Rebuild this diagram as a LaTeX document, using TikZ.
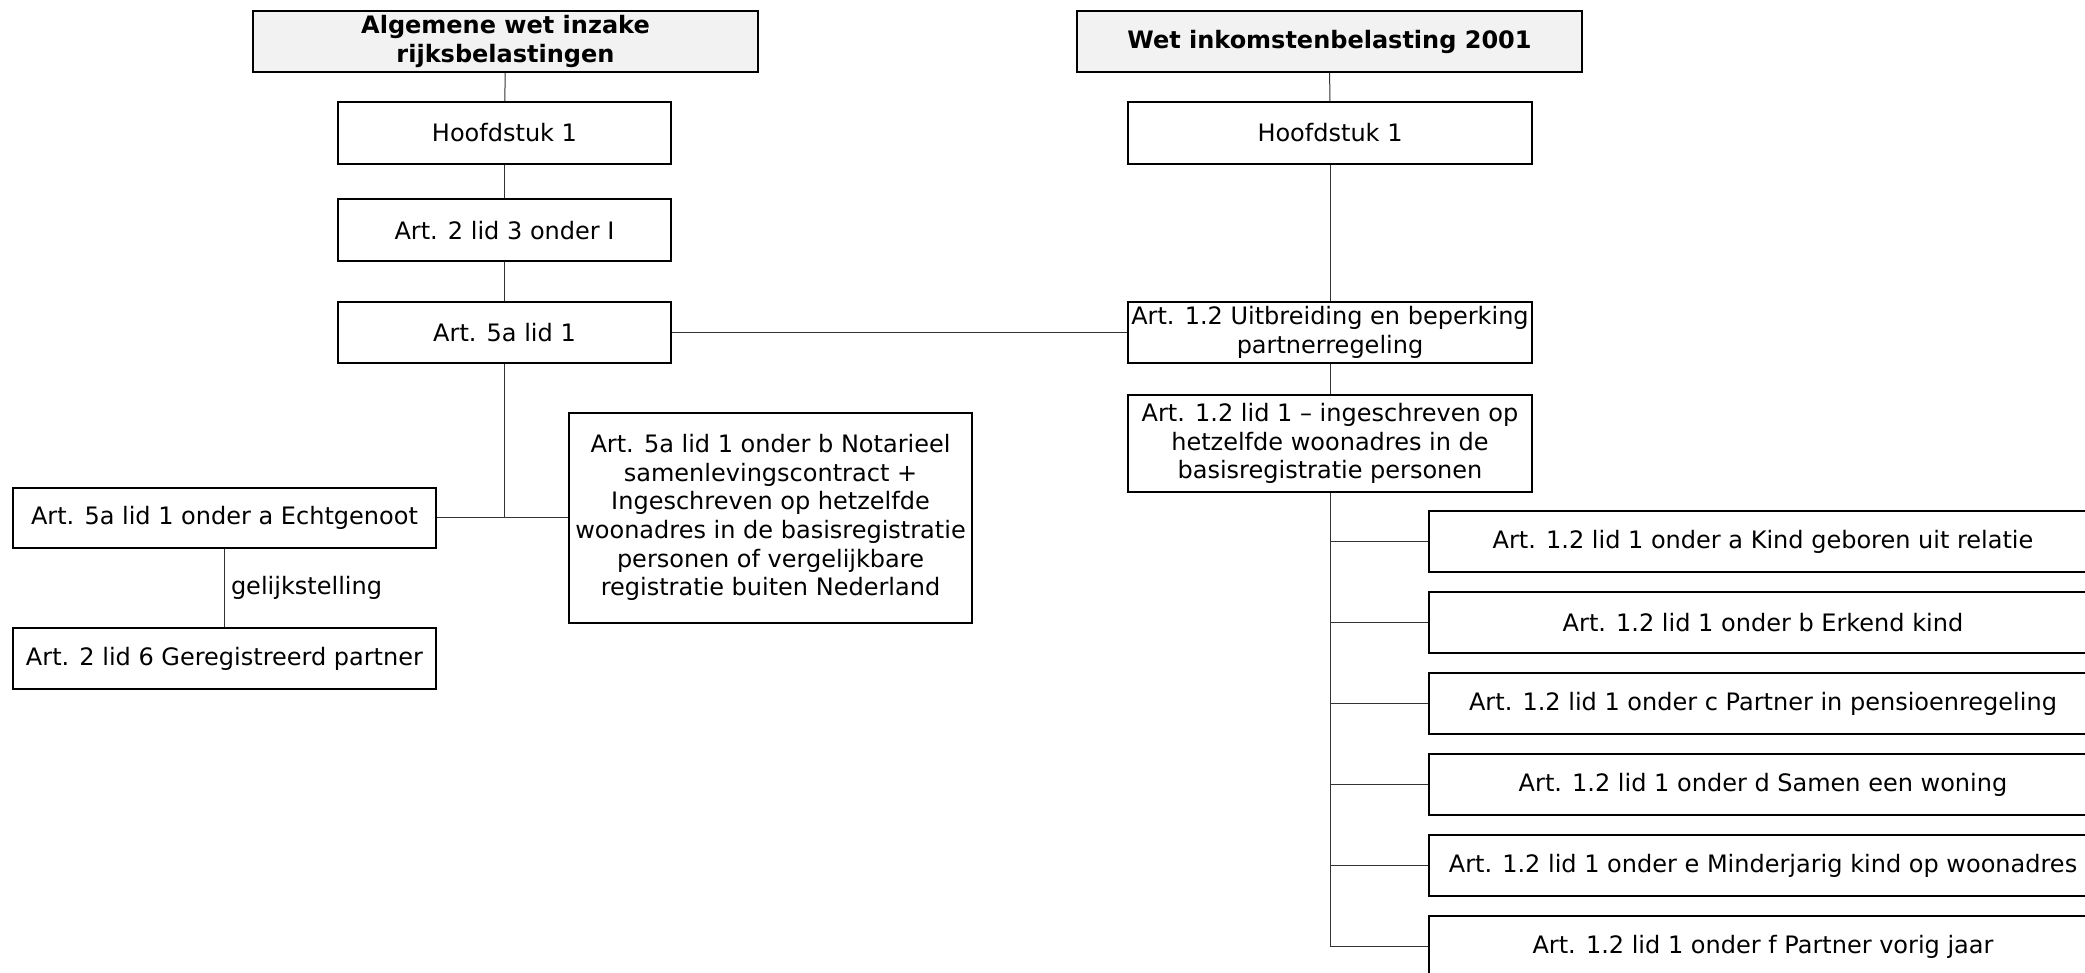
\documentclass[tikz,border=0pt]{standalone}
\usepackage{fontspec}
\setmainfont{DejaVu Sans}
\usetikzlibrary{positioning}
\tikzset{kbox/.style={draw, line width=2pt, fill=white, align=center, inner sep=1pt, font=\fontsize{24}{28.7}\selectfont}}
\tikzset{hbox/.style={kbox, fill={black!5}, font=\fontsize{24}{29}\selectfont\bfseries}}
\tikzset{lnk/.style={draw=black!80, line width=1pt}}

\begin{document}
\begin{tikzpicture}[x=1pt, y=-1pt]
	\useasboundingbox (0,0) rectangle (2085,973);
	\clip (0,0) rectangle (2085,973);

	\node[hbox, minimum width=505pt, minimum height=61pt] (awr) at (505.5,41.5) {Algemene wet inzake\\rijksbelastingen};
	\node[hbox, minimum width=505pt, minimum height=61pt] (wib) at (1329.5,41.5) {Wet inkomstenbelasting 2001};

	\node[kbox, minimum width=333pt, minimum height=62pt] (hfdl) at (504.5,133) {Hoofdstuk 1};
	\node[kbox, minimum width=333pt, minimum height=62pt] (art2) at (504.5,230.5) {Art. 2 lid 3 onder I};
	\node[kbox, minimum width=333pt, minimum height=61pt] (art5a) at (504.5,332.5) {Art. 5a lid 1};

	\node[kbox, minimum width=423pt, minimum height=60pt] (onda) at (224.5,517.5) {Art. 5a lid 1 onder a Echtgenoot};
	\node[kbox, minimum width=423pt, minimum height=61pt] (gp) at (224.5,658.5) {Art. 2 lid 6 Geregistreerd partner};
	\node[kbox, minimum width=403pt, minimum height=210pt] (ondb) at (770.5,517.5) {Art. 5a lid 1 onder b Notarieel\\samenlevingscontract +\\Ingeschreven op hetzelfde\\woonadres in de basisregistratie\\personen of vergelijkbare\\registratie buiten Nederland};

	\node[kbox, minimum width=404pt, minimum height=62pt] (hfdr) at (1330,133) {Hoofdstuk 1};
	\node[kbox, minimum width=404pt, minimum height=61pt] (uitb) at (1330,332.5) {Art. 1.2 Uitbreiding en beperking\\partnerregeling};
	\node[kbox, minimum width=404pt, minimum height=97pt] (lid1) at (1330,443.5) {Art. 1.2 lid 1 – ingeschreven op\\hetzelfde woonadres in de\\basisregistratie personen};

	\node[kbox, anchor=west, minimum width=668pt, minimum height=61pt] (oa) at (1428,541.5) {Art. 1.2 lid 1 onder a Kind geboren uit relatie};
	\node[kbox, anchor=west, minimum width=668pt, minimum height=61pt] (ob) at (1428,622.5) {Art. 1.2 lid 1 onder b Erkend kind};
	\node[kbox, anchor=west, minimum width=668pt, minimum height=61pt] (oc) at (1428,703.5) {Art. 1.2 lid 1 onder c Partner in pensioenregeling};
	\node[kbox, anchor=west, minimum width=668pt, minimum height=61pt] (od) at (1428,784.5) {Art. 1.2 lid 1 onder d Samen een woning};
	\node[kbox, anchor=west, minimum width=668pt, minimum height=61pt] (oe) at (1428,865.5) {Art. 1.2 lid 1 onder e Minderjarig kind op woonadres};
	\node[kbox, anchor=west, minimum width=668pt, minimum height=61pt] (of) at (1428,946.5) {Art. 1.2 lid 1 onder f Partner vorig jaar};

	\draw[lnk] (awr) -- (hfdl);
	\draw[lnk] (hfdl) -- (art2);
	\draw[lnk] (art2) -- (art5a);
	\draw[lnk] (art5a) -- (uitb);
	\draw[lnk] (art5a.south) -- (art5a.south |- onda.east);
	\draw[lnk] (onda.east) -- (ondb.west);
	\draw[lnk] (onda) -- node[right, inner sep=6pt, font=\fontsize{24}{28}\selectfont] {gelijkstelling} (gp);

	\draw[lnk] (wib) -- (hfdr);
	\draw[lnk] (hfdr) -- (uitb);
	\draw[lnk] (uitb) -- (lid1);
	\draw[lnk] (lid1.south) -- (lid1.south |- of.west);
	\draw[lnk] (lid1.south |- oa.west) -- (oa.west);
	\draw[lnk] (lid1.south |- ob.west) -- (ob.west);
	\draw[lnk] (lid1.south |- oc.west) -- (oc.west);
	\draw[lnk] (lid1.south |- od.west) -- (od.west);
	\draw[lnk] (lid1.south |- oe.west) -- (oe.west);
	\draw[lnk] (lid1.south |- of.west) -- (of.west);
\end{tikzpicture}
\end{document}
